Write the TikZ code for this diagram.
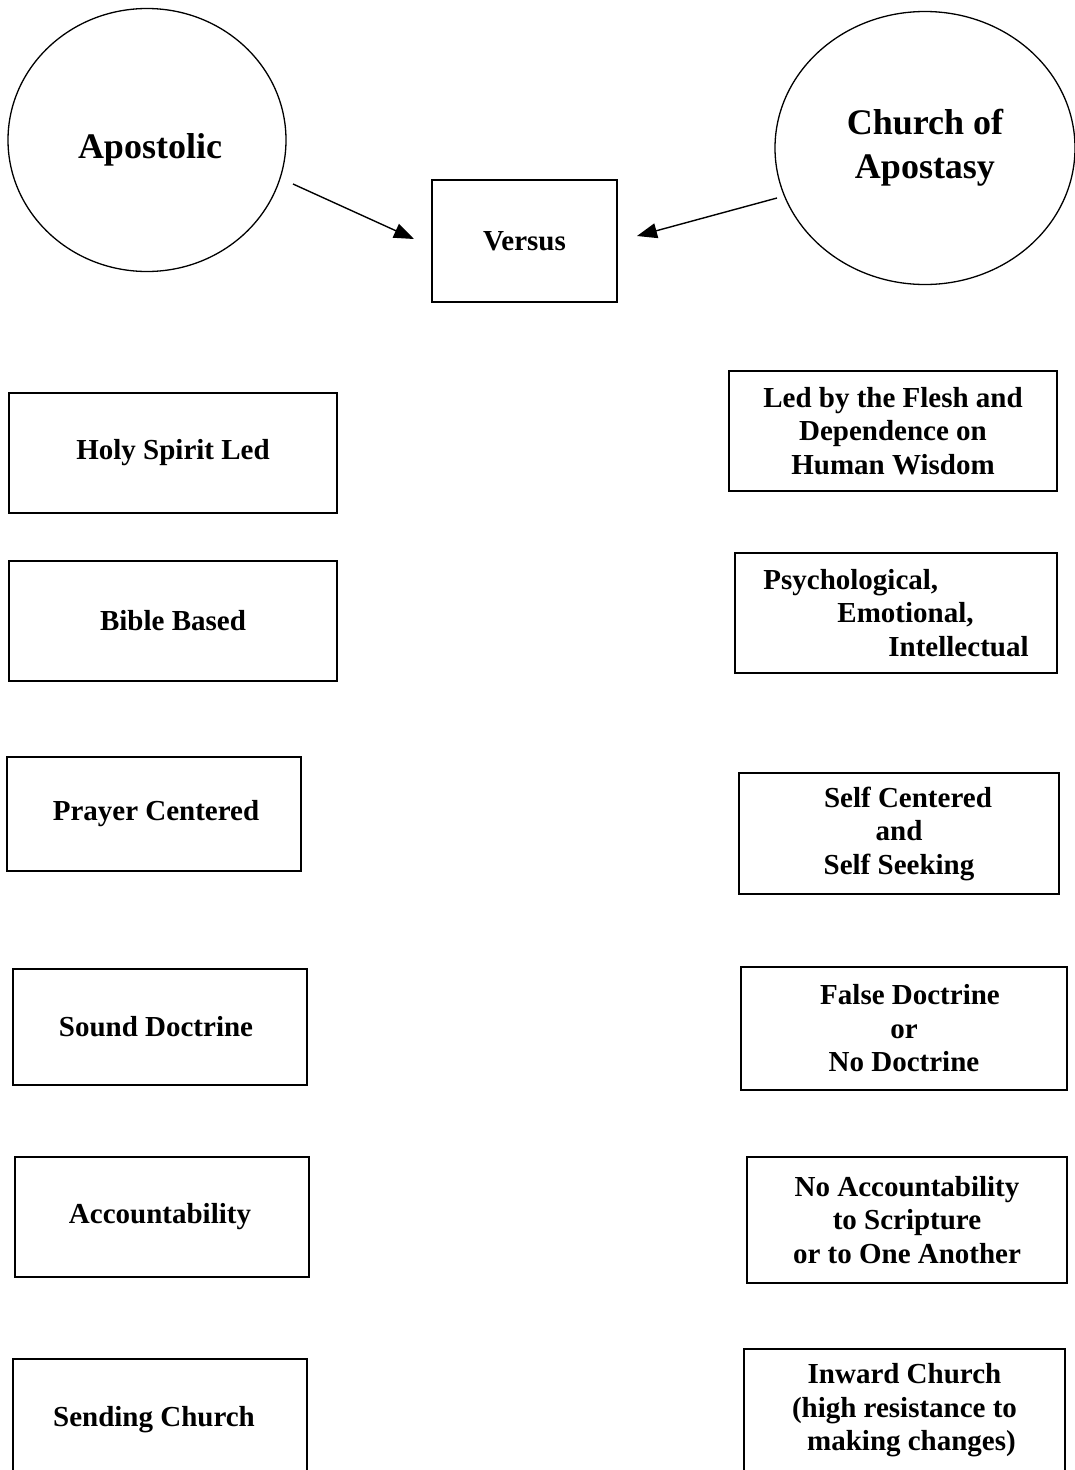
\documentclass[tikz,border=0pt]{standalone}
\usepackage{fontspec}
\setmainfont{Liberation Serif}
\usetikzlibrary{shapes.geometric,arrows.meta}
\begin{document}
\begin{tikzpicture}[x=1pt,y=-1pt,
  box/.style={draw, line width=1.6pt, rectangle, inner sep=0pt, align=center,
    font=\bfseries\fontsize{29}{33.5}\selectfont},
  oval/.style={draw, ellipse, line width=1.3pt, inner sep=0pt, align=center,
    font=\bfseries\fontsize{36}{44}\selectfont},
  arr/.style={line width=1.4pt, -{Triangle[length=20pt,width=15pt]}}]
\useasboundingbox (0,0) rectangle (1075,1470);
% top
\node[oval, minimum width=278pt, minimum height=263pt] (apo) at (147,140) {};
\node[font=\bfseries\fontsize{36}{44}\selectfont, inner sep=0pt] (apotext) at (150,150) {Apostolic};
\node[oval, minimum width=300pt, minimum height=273pt] (chu) at (925,148) {Church of\\Apostasy};
\node[box, minimum width=185pt, minimum height=122pt] (vs) at (524.5,241) {Versus};
\coordinate (a1s) at (293,184);
\coordinate (a1e) at (414,239);
\coordinate (a2s) at (777,198);
\coordinate (a2e) at (637,236);
\draw[arr] (a1s) -- (a1e);
\draw[arr] (a2s) -- (a2e);
% left column
\node[box, minimum width=328pt, minimum height=120pt] (hs) at (173,453) {Holy Spirit Led};
\node[box, minimum width=328pt, minimum height=120pt] (bb) at (173,621) {Bible Based};
\node[box, minimum width=294pt, minimum height=114pt] (pc) at (154,814) {\hspace*{4pt}Prayer Centered};
\node[box, minimum width=294pt, minimum height=116pt] (sd) at (160,1027) {\raisebox{-5pt}{Sound Doctrine}\hspace*{8pt}};
\node[box, minimum width=294pt, minimum height=120pt] (ac) at (162,1217) {\raisebox{-3pt}{Accountability}\hspace*{4pt}};
\node[box, minimum width=294pt, minimum height=122pt] (sc) at (160,1420) {Sending Church\hspace*{12pt}};
% right column
\node[box, minimum width=328pt, minimum height=120pt] (lf) at (893,431) {Led by the Flesh and\\Dependence on\\Human Wisdom};
\node[box, minimum width=322pt, minimum height=120pt, align=left] (ps) at (896,613) {Psychological,\\\hspace*{74pt}Emotional,\\\hspace*{125pt}Intellectual};
\node[box, minimum width=320pt, minimum height=121pt] (scn) at (899,833.5) {\hspace*{18pt}Self Centered\\and\\Self Seeking};
\node[box, minimum width=326pt, minimum height=123pt] (fd) at (904,1028.5) {\hspace*{12pt}False Doctrine\\or\\No Doctrine};
\node[box, minimum width=320pt, minimum height=126pt] (na) at (907,1220) {No Accountability\\to Scripture\\or to One Another};
\node[box, minimum width=321pt, minimum height=123pt] (iw) at (904.5,1410.5) {Inward Church\\(high resistance to\\\hspace*{14pt}making changes)};
\end{tikzpicture}
\end{document}
